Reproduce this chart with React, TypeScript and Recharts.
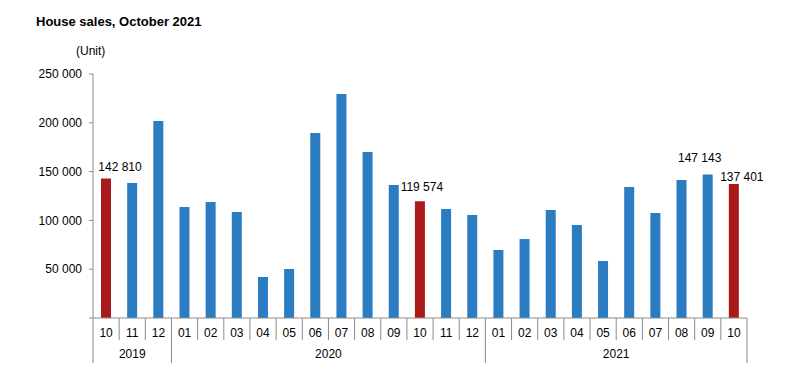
import React from 'react';
import { BarChart, Bar, XAxis, YAxis, Cell } from 'recharts';

const months = [
  '10', '11', '12',
  '01', '02', '03', '04', '05', '06', '07', '08', '09', '10', '11', '12',
  '01', '02', '03', '04', '05', '06', '07', '08', '09', '10',
];
const years = [
  '2019', '2019', '2019',
  '2020', '2020', '2020', '2020', '2020', '2020', '2020', '2020', '2020', '2020', '2020', '2020',
  '2021', '2021', '2021', '2021', '2021', '2021', '2021', '2021', '2021', '2021',
];
const sales = [
  142810, 138300, 201800,
  113700, 118900, 108600, 42000, 50200, 189500, 229500, 170000, 136300, 119574, 111700, 105500,
  69700, 80900, 110700, 95300, 58400, 134200, 107600, 141400, 147143, 137401,
];
// October of each year is drawn in red
const highlighted = [0, 12, 24];
// bars that carry a value label
const labelled = [0, 12, 23, 24];
const yTicks = [0, 50000, 100000, 150000, 200000, 250000];

const data = months.map((m, i) => ({ month: m, year: years[i], sales: sales[i] }));

const FONT = '"Liberation Sans", Arial, sans-serif';
const W = 802;
const H = 386;
const LEFT = 93;
const RIGHT = 747;
const TOP = 74;
const BOTTOM = 318;
const BW = (RIGHT - LEFT) / months.length;
const AXIS = '#8a8a8a';
const BLUE = '#2a7dc1';
const RED = '#ab1a1a';

// label centre offsets relative to bar centre / bar top
const labelShift: Record<number, [number, number]> = {
  0: [14, -12],
  12: [2, -14],
  23: [-8, -16],
  24: [8, -7],
};

const fmt = (v: number) => (v === 0 ? '' : v.toLocaleString('en-US').replace(/,/g, ' '));

const MonthTick = (props: any) => {
  const { x, index, payload } = props;
  const i = index as number;
  const left = x - BW / 2;
  const groupStart = i === 0 || years[i] !== years[i - 1];
  let n = 0;
  if (groupStart) {
    while (i + n < years.length && years[i + n] === years[i]) n++;
  }
  const last = i === months.length - 1;
  return (
    <g>
      <line x1={left} y1={BOTTOM} x2={left} y2={groupStart ? 363 : 340} stroke={AXIS} />
      {last && <line x1={x + BW / 2} y1={BOTTOM} x2={x + BW / 2} y2={363} stroke={AXIS} />}
      <text x={x} y={337} textAnchor="middle" fontSize={12} fontFamily={FONT} fill="#000">
        {payload.value}
      </text>
      {groupStart && (
        <text x={left + (n * BW) / 2} y={358} textAnchor="middle" fontSize={12} fontFamily={FONT} fill="#000">
          {years[i]}
        </text>
      )}
    </g>
  );
};

const renderLabel = (props: any) => {
  const { x, y, width, index } = props;
  if (!labelled.includes(index)) return null;
  const [dx, dy] = labelShift[index] || [0, -10];
  return (
    <text
      x={x + width / 2 + dx}
      y={y + dy + 4}
      textAnchor="middle"
      fontSize={12}
      fontFamily={FONT}
      fill="#000"
    >
      {fmt(sales[index])}
    </text>
  );
};

export default function App() {
  return (
    <div style={{ position: 'absolute', left: 0, top: 0, width: W, height: H, background: '#fff' }}>
      <div
        style={{
          position: 'absolute', left: 36, top: 13, fontFamily: FONT, fontSize: 13,
          fontWeight: 'bold', color: '#000', whiteSpace: 'nowrap', lineHeight: '18px',
        }}
      >
        House sales, October 2021
      </div>
      <div
        style={{
          position: 'absolute', left: 76, top: 43, fontFamily: FONT, fontSize: 12,
          color: '#000', whiteSpace: 'nowrap', lineHeight: '16px',
        }}
      >
        (Unit)
      </div>
      <BarChart
        width={W}
        height={H}
        data={data}
        margin={{ top: TOP, right: W - RIGHT, bottom: 0, left: 0 }}
        barSize={10}
      >
        <XAxis
          dataKey="month"
          interval={0}
          tickLine={false}
          axisLine={{ stroke: AXIS }}
          height={H - BOTTOM}
          tick={<MonthTick />}
        />
        <YAxis
          domain={[0, 250000]}
          ticks={yTicks}
          tickFormatter={fmt}
          width={LEFT}
          tickSize={4}
          tickMargin={7}
          axisLine={{ stroke: AXIS }}
          tickLine={{ stroke: AXIS }}
          tick={{ fontSize: 12, fontFamily: FONT, fill: '#000' }}
        />
        <Bar dataKey="sales" isAnimationActive={false} label={renderLabel}>
          {data.map((_, i) => (
            <Cell key={i} fill={highlighted.includes(i) ? RED : BLUE} />
          ))}
        </Bar>
      </BarChart>
    </div>
  );
}
